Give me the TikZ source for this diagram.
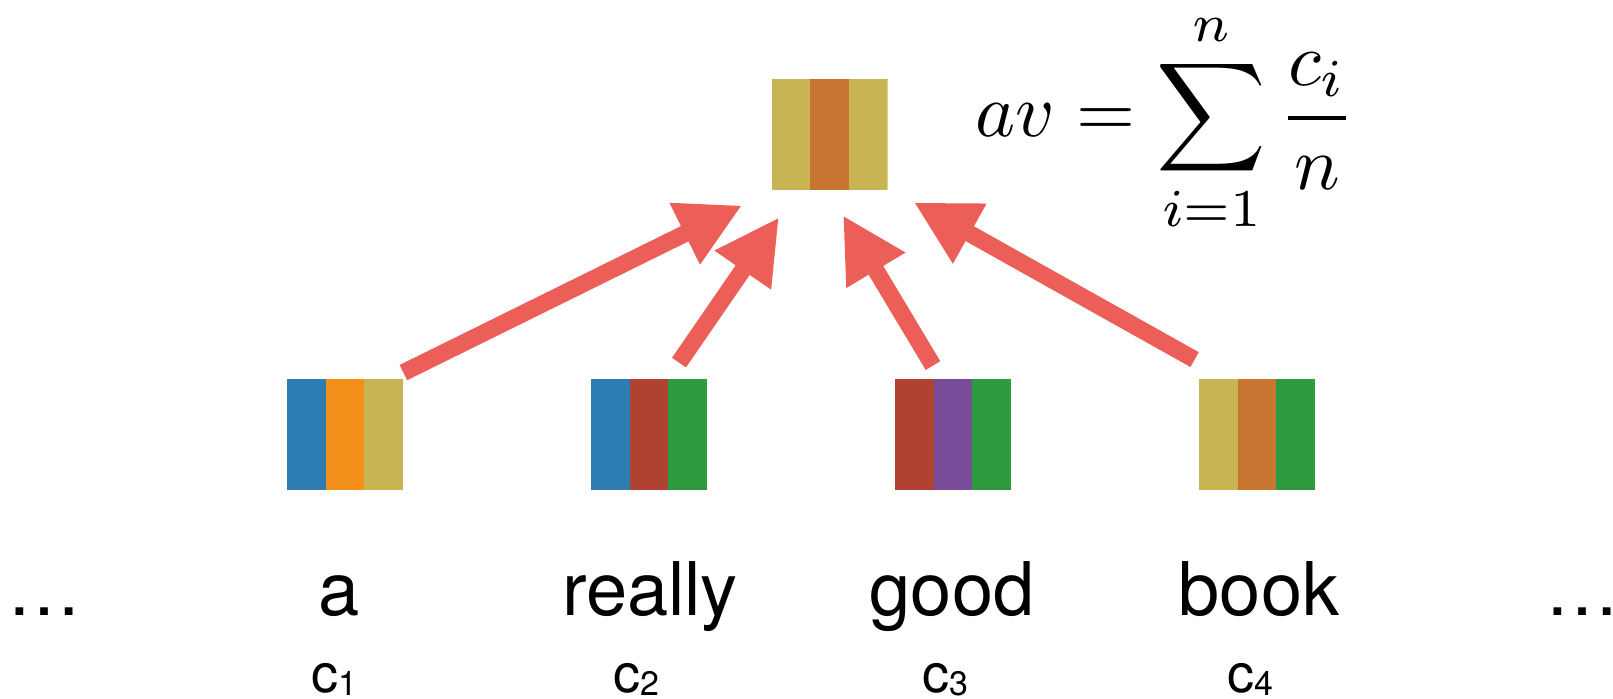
\documentclass[tikz,border=0pt]{standalone}
\usepackage{graphicx}
\usepackage{fontspec}
\setmainfont{TeX Gyre Heros}
\usetikzlibrary{arrows.meta, calc}
\definecolor{vblue}{RGB}{46,125,178}
\definecolor{vorange}{RGB}{242,144,26}
\definecolor{volive}{RGB}{201,180,84}
\definecolor{vcopper}{RGB}{199,117,49}
\definecolor{vbrick}{RGB}{176,66,49}
\definecolor{vgreen}{RGB}{46,154,64}
\definecolor{vpurple}{RGB}{120,76,152}
\definecolor{arrowred}{RGB}{236,95,88}

\begin{document}
\begin{tikzpicture}[
  x=0.5pt, y=-0.5pt,
  vec/.style n args={3}{rectangle, minimum width=58pt, minimum height=55.5pt,
              inner sep=0pt, fill=white,
              path picture={
                \fill[#1] (path picture bounding box.north west) rectangle
                  ($(path picture bounding box.south west)!1/3!(path picture bounding box.south east)$);
                \fill[#2] ($(path picture bounding box.north west)!1/3!(path picture bounding box.north east)$) rectangle
                  ($(path picture bounding box.south west)!2/3!(path picture bounding box.south east)$);
                \fill[#3] ($(path picture bounding box.north west)!2/3!(path picture bounding box.north east)$) rectangle
                  (path picture bounding box.south east);}},
  word/.style={font=\fontsize{37}{40}\selectfont, anchor=base, inner sep=0pt},
  idx/.style={font=\fontsize{27}{30}\selectfont, anchor=base, inner sep=0pt},
  arr/.style={-{Triangle[length=32pt, width=32pt]}, line width=8.5pt, arrowred}
]
\useasboundingbox (0,0) rectangle (1613,699);

% ── Averaged vector and formula ──
\node[vec={volive}{vcopper}{volive}] (avg) at (829.5,134.5) {};
\node[anchor=base west, inner sep=0pt] (formula) at (975,137)
  {\scalebox{3.8}{$\displaystyle av=\sum_{i=1}^{n}\frac{c_i}{n}$}};

% ── Word vectors ──
\node[vec={vblue}{vorange}{volive}]  (w1) at ( 345,434.5) {};
\node[vec={vblue}{vbrick}{vgreen}]   (w2) at ( 649,434.5) {};
\node[vec={vbrick}{vpurple}{vgreen}] (w3) at ( 953,434.5) {};
\node[vec={volive}{vcopper}{vgreen}] (w4) at (1257,434.5) {};

% ── Words (baseline y = 616) and indices (baseline y = 693) ──
\node[word, anchor=base west] (ldots) at (7,616) {…};
\node[word] (ta) at ( 339,616) {a};
\node[word] (tb) at ( 650,616) {really};
\node[word] (tc) at ( 952,616) {good};
\node[word] (td) at (1259,616) {book};
\node[word, anchor=base west] (rdots) at (1545,616) {…};

\node[idx] (c1) at ( 334,693) {c\raisebox{-1.5pt}{\fontsize{17}{17}\selectfont 1}};
\node[idx] (c2) at ( 636,693) {c\raisebox{-1.5pt}{\fontsize{17}{17}\selectfont 2}};
\node[idx] (c3) at ( 945,693) {c\raisebox{-1.5pt}{\fontsize{17}{17}\selectfont 3}};
\node[idx] (c4) at (1250,693) {c\raisebox{-1.5pt}{\fontsize{17}{17}\selectfont 4}};

% ── Arrows: word vectors → average ──
\draw[arr] ([shift={(0,-6)}]w1.north east)     -- ([shift={(-29,15)}]avg.south west);
\draw[arr] ([shift={(30,-16)}]w2.north)        -- ([shift={(-50.5,27)}]avg.south);
\draw[arr] ([shift={(-20,-13)}]w3.north)       -- ([shift={(13.5,25)}]avg.south);
\draw[arr] ([shift={(-4,-19)}]w4.north west)   -- ([shift={(26,12)}]avg.south east);

\end{tikzpicture}
\end{document}
